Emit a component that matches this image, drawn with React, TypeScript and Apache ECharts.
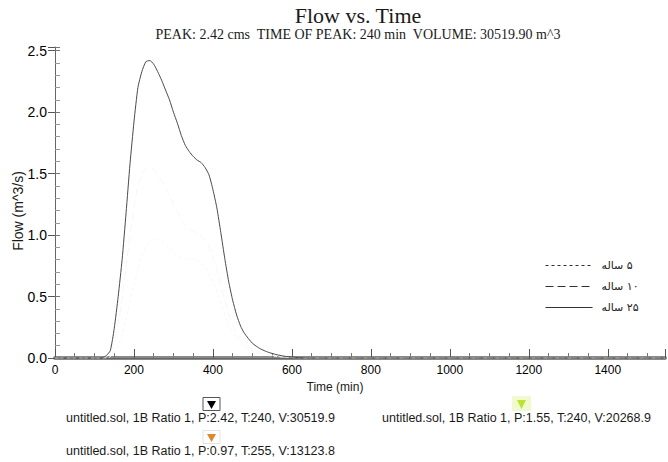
import React, { useEffect, useRef } from "react";
import * as echarts from "echarts";

const TIME = [0, 100, 120, 130, 140, 150, 160, 170, 180, 190, 200, 210, 220, 230, 240, 250, 260, 270, 280, 290, 300, 310, 320, 330, 340, 350, 360, 370, 380, 390, 400, 410, 420, 430, 440, 450, 460, 470, 480, 500, 520, 540, 560, 580, 600, 620, 650, 700, 800, 1000, 1545];
const FLOW_25 = [0, 0, 0, 0.02, 0.06, 0.24, 0.5, 0.8, 1.18, 1.58, 1.92, 2.2, 2.33, 2.41, 2.42, 2.39, 2.33, 2.26, 2.18, 2.1, 2.0, 1.91, 1.81, 1.73, 1.68, 1.64, 1.61, 1.59, 1.55, 1.49, 1.37, 1.22, 1.02, 0.81, 0.62, 0.47, 0.35, 0.26, 0.2, 0.12, 0.075, 0.047, 0.028, 0.015, 0.007, 0.003, 0, 0, 0, 0, 0];
const FLOW_10 = [0, 0, 0, 0.01, 0.04, 0.13, 0.28, 0.48, 0.74, 1.0, 1.22, 1.4, 1.49, 1.54, 1.55, 1.53, 1.49, 1.44, 1.38, 1.32, 1.25, 1.19, 1.13, 1.08, 1.05, 1.03, 1.01, 0.99, 0.96, 0.91, 0.82, 0.72, 0.6, 0.47, 0.36, 0.27, 0.2, 0.15, 0.115, 0.07, 0.043, 0.027, 0.016, 0.009, 0.004, 0.002, 0, 0, 0, 0, 0];
const FLOW_5 = [0, 0, 0, 0, 0.01, 0.04, 0.1, 0.19, 0.32, 0.46, 0.6, 0.72, 0.83, 0.9, 0.95, 0.97, 0.97, 0.95, 0.92, 0.89, 0.86, 0.83, 0.81, 0.8, 0.8, 0.8, 0.79, 0.77, 0.74, 0.69, 0.62, 0.54, 0.45, 0.36, 0.28, 0.21, 0.16, 0.12, 0.09, 0.055, 0.034, 0.021, 0.013, 0.007, 0.003, 0.001, 0, 0, 0, 0, 0];

const SERIES_NAMES = ["\u200F۵ ساله", "\u200F۱۰ ساله", "\u200F۲۵ ساله"];
const TITLE = "Flow vs. Time";
const SUBTITLE = "PEAK: 2.42 cms  TIME OF PEAK: 240 min  VOLUME: 30519.90 m^3";
const FOOT_TEXTS = [
  "untitled.sol, 1B Ratio 1, P:2.42, T:240, V:30519.9",
  "untitled.sol, 1B Ratio 1, P:1.55, T:240, V:20268.9",
  "untitled.sol, 1B Ratio 1, P:0.97, T:255, V:13123.8",
];

const pairs = (ys: number[]) => TIME.map((t, i) => [t, ys[i]]);

const SANS = "Arial, 'Liberation Sans', 'DejaVu Sans', sans-serif";
const SERIF = "'Times New Roman', 'Liberation Serif', serif";

function txt(x: number, y: number, text: string, font: string, align = "left", extra: any = {}) {
  return {
    type: "text",
    x,
    y,
    ...extra,
    style: {
      text,
      font,
      fill: "#1a1a1a",
      align,
      verticalAlign: "middle",
      textAlign: align,
      textVerticalAlign: "middle",
    },
  };
}

export default function App() {
  const ref = useRef<HTMLDivElement>(null);
  useEffect(() => {
    if (!ref.current) return;
    const chart = echarts.init(ref.current, undefined, { renderer: "svg" });
    const yLabel = (v: number) => (Math.abs(v * 2 - Math.round(v * 2)) < 1e-6 ? v.toFixed(1) : "");
    const xLabel = (v: number) => (v % 200 === 0 ? String(v) : "");
    chart.setOption({
      animation: false,
      backgroundColor: "#ffffff",
      grid: { left: 55, top: 47, right: 0, bottom: 104, containLabel: false },
      xAxis: [
        {
          type: "value",
          min: 0,
          max: 1545,
          interval: 200,
          axisLine: { show: true, lineStyle: { color: "#8a8a8a", width: 4 } },
          axisTick: { show: true, inside: true, length: 9, lineStyle: { color: "#555" } },
          minorTick: { show: true, splitNumber: 4, length: 5, lineStyle: { color: "#777" } },
          axisLabel: { formatter: xLabel, color: "#000", fontSize: 12, fontFamily: SANS, margin: 6 },
          splitLine: { show: false },
        },
        {
          type: "value",
          position: "top",
          min: 0,
          max: 1545,
          axisLine: { show: true, lineStyle: { color: "#666", width: 1 } },
          axisTick: { show: false },
          axisLabel: { show: false },
          splitLine: { show: false },
        },
      ],
      yAxis: [
        {
          type: "value",
          min: 0,
          max: 2.53,
          interval: 0.5,
          axisLine: { show: true, lineStyle: { color: "#666", width: 1 } },
          axisTick: { show: true, inside: false, length: 7, lineStyle: { color: "#555" } },
          axisLabel: { formatter: yLabel, color: "#000", fontSize: 14, fontFamily: SANS, margin: 8 },
          splitLine: { show: false },
        },
        {
          type: "value",
          position: "left",
          min: 0,
          max: 2.53,
          interval: 0.5,
          axisLine: { show: false },
          axisTick: { show: true, inside: true, length: 5, lineStyle: { color: "#777" } },
          minorTick: { show: true, splitNumber: 5, length: 5, lineStyle: { color: "#999" } },
          axisLabel: { show: false },
          splitLine: { show: false },
        },
      ],
      legend: {
        orient: "vertical",
        left: 540,
        top: 255,
        itemWidth: 47,
        itemHeight: 11,
        itemGap: 10,
        lineStyle: { color: "#333", width: 1 },
        itemStyle: { opacity: 0, color: "rgba(0,0,0,0)", borderWidth: 0 },
        textStyle: { color: "#222", fontSize: 11, fontFamily: "'DejaVu Sans', sans-serif", padding: [0, 0, 0, 4] },
        data: SERIES_NAMES,
      },
      series: [
        {
          name: SERIES_NAMES[0],
          type: "line",
          data: pairs(FLOW_5),
          showSymbol: false,
          symbol: "none",
          smooth: 0.2,
          lineStyle: { color: "#f6f6f3", width: 1, type: [3, 3] },
          itemStyle: { color: "#333" },
        },
        {
          name: SERIES_NAMES[1],
          type: "line",
          data: pairs(FLOW_10),
          showSymbol: false,
          symbol: "none",
          smooth: 0.2,
          lineStyle: { color: "#f6f6f3", width: 1, type: [8, 4] },
          itemStyle: { color: "#333" },
        },
        {
          name: SERIES_NAMES[2],
          type: "line",
          data: pairs(FLOW_25),
          showSymbol: false,
          symbol: "none",
          smooth: 0.2,
          lineStyle: { color: "#4a4a4a", width: 1, type: "solid" },
          itemStyle: { color: "#333" },
          z: 5,
        },
      ],
      graphic: [
        txt(358, 15, TITLE, `22px ${SERIF}`, "center"),
        txt(358, 34, SUBTITLE, `14px ${SERIF}`, "center"),
        txt(18, 211, "Flow (m^3/s)", `14px ${SANS}`, "center", { rotation: Math.PI / 2 }),
        txt(335, 387, "Time (min)", `12px ${SANS}`, "center"),
        txt(66, 418, FOOT_TEXTS[0], `12.5px ${SANS}`),
        txt(382, 418, FOOT_TEXTS[1], `12.5px ${SANS}`),
        txt(66, 451, FOOT_TEXTS[2], `12.5px ${SANS}`),
        { type: "rect", shape: { x: 203, y: 397.5, width: 17, height: 13 }, style: { fill: "#fff", stroke: "#555", lineWidth: 1 } },
        { type: "polygon", shape: { points: [[207, 401], [216, 401], [211.5, 409]] }, style: { fill: "#000" } },
        { type: "rect", shape: { x: 512, y: 396, width: 19, height: 15 }, style: { fill: "#f1f9cf" } },
        { type: "polygon", shape: { points: [[517, 400], [526, 400], [521.5, 409]] }, style: { fill: "#bde234" } },
        { type: "rect", shape: { x: 203, y: 430.5, width: 17, height: 13 }, style: { fill: "none", stroke: "#e4e4e4", lineWidth: 1 } },
        { type: "polygon", shape: { points: [[207, 434], [216, 434], [211.5, 442]] }, style: { fill: "#e0872a" } },
      ],
    });
    return () => chart.dispose();
  }, []);
  return <div ref={ref} style={{ position: "fixed", left: 0, top: 0, width: 668, height: 462 }} />;
}
